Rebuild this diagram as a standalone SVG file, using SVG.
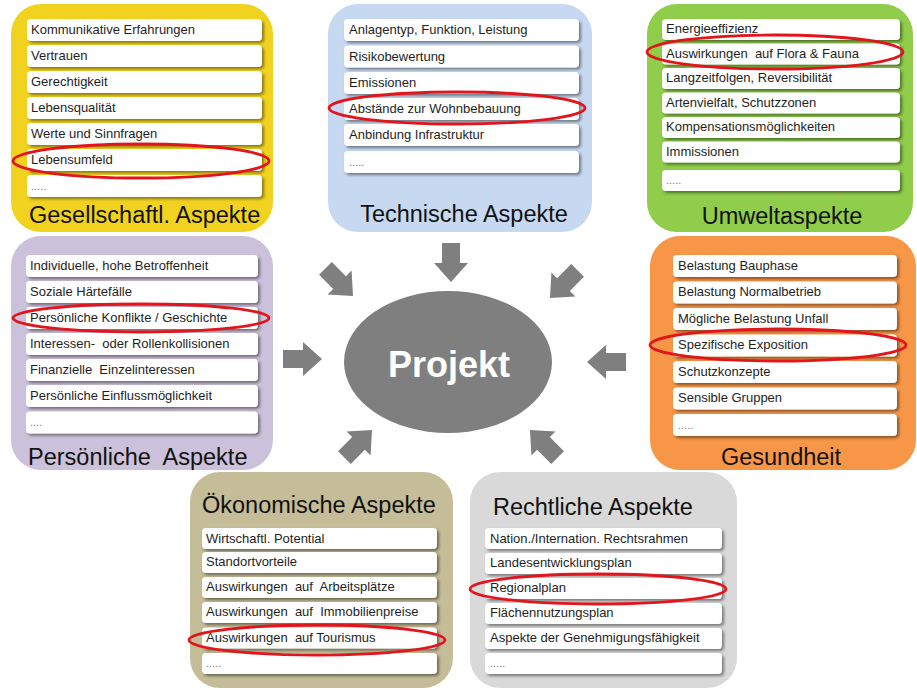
<svg xmlns="http://www.w3.org/2000/svg" width="917" height="690" viewBox="0 0 917 690">
<defs>
<filter id="sh" x="-5%" y="-30%" width="115%" height="170%"><feDropShadow dx="2" dy="2" stdDeviation="1.4" flood-color="#000" flood-opacity="0.45"/></filter>
<path id="arr" d="M0,0 L-19,-17 L-19,-9 L-39,-9 L-39,9 L-19,9 L-19,17 Z"/>
</defs>
<style>
text{font-family:"Liberation Sans",Arial,sans-serif;white-space:pre}
.it{fill:#fff;filter:url(#sh)}
.t{font-size:13px;fill:#1e1e1e}
.d{font-size:11px;fill:#777}
.h{font-size:23.5px;fill:#111}
.ov{fill:none;stroke:#e3141c;stroke-width:2.8}
.ar{fill:#7f7f7f}
</style>
<rect width="917" height="690" fill="#fff"/>

<g id="gesellschaft">
<rect x="11" y="4" width="262" height="228" rx="30" fill="#f1d31f"/>
<rect class="it" x="27" y="19" width="235" height="22" rx="4"/><text class="t" x="31" y="34">Kommunikative Erfahrungen</text>
<rect class="it" x="27" y="45" width="235" height="22" rx="4"/><text class="t" x="31" y="60">Vertrauen</text>
<rect class="it" x="27" y="71" width="235" height="22" rx="4"/><text class="t" x="31" y="86">Gerechtigkeit</text>
<rect class="it" x="27" y="97" width="235" height="22" rx="4"/><text class="t" x="31" y="112">Lebensqualität</text>
<rect class="it" x="27" y="123" width="235" height="22" rx="4"/><text class="t" x="31" y="138">Werte und Sinnfragen</text>
<rect class="it" x="27" y="149" width="235" height="22" rx="4"/><text class="t" x="31" y="164">Lebensumfeld</text>
<rect class="it" x="27" y="175" width="235" height="22" rx="4"/><text class="d" x="31" y="190">.....</text>
<text class="h" x="29" y="223">Gesellschaftl. Aspekte</text>
<ellipse class="ov" cx="141" cy="161" rx="128" ry="17"/>
</g>

<g id="technisch">
<rect x="328" y="4" width="264" height="228" rx="30" fill="#c6d9f1"/>
<rect class="it" x="344" y="19" width="235" height="22" rx="4"/><text class="t" x="349" y="34">Anlagentyp, Funktion, Leistung</text>
<rect class="it" x="344" y="45.5" width="235" height="22" rx="4"/><text class="t" x="349" y="60.5">Risikobewertung</text>
<rect class="it" x="344" y="72" width="235" height="22" rx="4"/><text class="t" x="349" y="87">Emissionen</text>
<rect class="it" x="344" y="98" width="235" height="22" rx="4"/><text class="t" x="349" y="113">Abstände zur Wohnbebauung</text>
<rect class="it" x="344" y="124" width="235" height="22" rx="4"/><text class="t" x="349" y="139">Anbindung Infrastruktur</text>
<rect class="it" x="344" y="151" width="235" height="22" rx="4"/><text class="d" x="349" y="166">.....</text>
<text class="h" x="464" y="222" text-anchor="middle">Technische Aspekte</text>
<ellipse class="ov" cx="457" cy="108" rx="128" ry="16"/>
</g>

<g id="umwelt">
<rect x="647" y="4" width="266" height="228" rx="30" fill="#8fcd4a"/>
<rect class="it" x="662" y="19" width="238" height="21" rx="4"/><text class="t" x="666" y="33">Energieeffizienz</text>
<rect class="it" x="662" y="43.5" width="238" height="21" rx="4"/><text class="t" x="666" y="57.5">Auswirkungen  auf Flora &amp; Fauna</text>
<rect class="it" x="662" y="68" width="238" height="21" rx="4"/><text class="t" x="666" y="82">Langzeitfolgen, Reversibilität</text>
<rect class="it" x="662" y="92.5" width="238" height="21" rx="4"/><text class="t" x="666" y="106.5">Artenvielfalt, Schutzzonen</text>
<rect class="it" x="662" y="117" width="238" height="21" rx="4"/><text class="t" x="666" y="131">Kompensationsmöglichkeiten</text>
<rect class="it" x="662" y="141.5" width="238" height="21" rx="4"/><text class="t" x="666" y="155.5">Immissionen</text>
<rect class="it" x="662" y="170" width="238" height="21" rx="4"/><text class="d" x="666" y="184">.....</text>
<text class="h" x="782" y="224" text-anchor="middle">Umweltaspekte</text>
<ellipse class="ov" cx="775" cy="52" rx="128" ry="17"/>
</g>

<g id="persoenlich">
<rect x="11" y="236" width="262" height="234" rx="30" fill="#ccc1da"/>
<rect class="it" x="26" y="255" width="232" height="22" rx="4"/><text class="t" x="30" y="269.5">Individuelle, hohe Betroffenheit</text>
<rect class="it" x="26" y="281" width="232" height="22" rx="4"/><text class="t" x="30" y="295.5">Soziale Härtefälle</text>
<rect class="it" x="26" y="307" width="232" height="22" rx="4"/><text class="t" x="30" y="321.5">Persönliche Konflikte / Geschichte</text>
<rect class="it" x="26" y="333" width="232" height="22" rx="4"/><text class="t" x="30" y="347.5">Interessen-  oder Rollenkollisionen</text>
<rect class="it" x="26" y="359" width="232" height="22" rx="4"/><text class="t" x="30" y="373.5">Finanzielle  Einzelinteressen</text>
<rect class="it" x="26" y="385" width="232" height="22" rx="4"/><text class="t" x="30" y="399.5">Persönliche Einflussmöglichkeit</text>
<rect class="it" x="26" y="411.5" width="232" height="22" rx="4"/><text class="d" x="30" y="426">....</text>
<text class="h" x="28" y="465">Persönliche  Aspekte</text>
<ellipse class="ov" cx="141" cy="318" rx="128" ry="14"/>
</g>

<g id="gesundheit">
<rect x="650" y="236" width="266" height="234" rx="30" fill="#f79646"/>
<rect class="it" x="673" y="255" width="224" height="22" rx="4"/><text class="t" x="678" y="269.5">Belastung Bauphase</text>
<rect class="it" x="673" y="281.5" width="224" height="22" rx="4"/><text class="t" x="678" y="296">Belastung Normalbetrieb</text>
<rect class="it" x="673" y="308" width="224" height="22" rx="4"/><text class="t" x="678" y="322.5">Mögliche Belastung Unfall</text>
<rect class="it" x="673" y="334.5" width="224" height="22" rx="4"/><text class="t" x="678" y="349">Spezifische Exposition</text>
<rect class="it" x="673" y="361" width="224" height="22" rx="4"/><text class="t" x="678" y="375.5">Schutzkonzepte</text>
<rect class="it" x="673" y="387.5" width="224" height="22" rx="4"/><text class="t" x="678" y="402">Sensible Gruppen</text>
<rect class="it" x="673" y="414" width="224" height="22" rx="4"/><text class="d" x="678" y="428.5">.....</text>
<text class="h" x="781" y="465" text-anchor="middle">Gesundheit</text>
<ellipse class="ov" cx="778" cy="345" rx="128" ry="16"/>
</g>

<g id="oekonomisch">
<rect x="190" y="472" width="263" height="216" rx="30" fill="#c4bd97"/>
<text class="h" x="202" y="513">Ökonomische Aspekte</text>
<rect class="it" x="202" y="528" width="235" height="21" rx="4"/><text class="t" x="206" y="542.5">Wirtschaftl. Potential</text>
<rect class="it" x="202" y="552" width="235" height="21" rx="4"/><text class="t" x="206" y="566">Standortvorteile</text>
<rect class="it" x="202" y="577" width="235" height="21" rx="4"/><text class="t" x="206" y="591">Auswirkungen  auf  Arbeitsplätze</text>
<rect class="it" x="202" y="602" width="235" height="21" rx="4"/><text class="t" x="206" y="616">Auswirkungen  auf  Immobilienpreise</text>
<rect class="it" x="202" y="627.5" width="235" height="21" rx="4"/><text class="t" x="206" y="641.5">Auswirkungen  auf Tourismus</text>
<rect class="it" x="202" y="653" width="235" height="21" rx="4"/><text class="d" x="206" y="667">.....</text>
<ellipse class="ov" cx="317" cy="640" rx="128" ry="15"/>
</g>

<g id="rechtlich">
<rect x="470" y="472" width="267" height="216" rx="30" fill="#d9d9d9"/>
<text class="h" x="493" y="515">Rechtliche Aspekte</text>
<rect class="it" x="485" y="528" width="237" height="21" rx="4"/><text class="t" x="490" y="542.5">Nation./Internation. Rechtsrahmen</text>
<rect class="it" x="485" y="553" width="237" height="21" rx="4"/><text class="t" x="490" y="567">Landesentwicklungsplan</text>
<rect class="it" x="485" y="578" width="237" height="21" rx="4"/><text class="t" x="490" y="592">Regionalplan</text>
<rect class="it" x="485" y="603" width="237" height="21" rx="4"/><text class="t" x="490" y="617">Flächennutzungsplan</text>
<rect class="it" x="485" y="628" width="237" height="21" rx="4"/><text class="t" x="490" y="642">Aspekte der Genehmigungsfähigkeit</text>
<rect class="it" x="485" y="653" width="237" height="21" rx="4"/><text class="d" x="490" y="667">.....</text>
<ellipse class="ov" cx="598" cy="589" rx="128" ry="15"/>
</g>

<g id="projekt">
<ellipse cx="448" cy="362" rx="104" ry="71" fill="#7f7f7f"/>
<text x="449" y="377" text-anchor="middle" font-size="36" font-weight="bold" fill="#fff">Projekt</text>
</g>

<g id="connectors" class="ar">
<use href="#arr" transform="translate(451,282) rotate(90)"/>
<use href="#arr" transform="translate(322,359)"/>
<use href="#arr" transform="translate(587,362) rotate(180)"/>
<use href="#arr" transform="translate(353,296) rotate(45)"/>
<use href="#arr" transform="translate(550,298) rotate(135)"/>
<use href="#arr" transform="translate(372,430) rotate(-45)"/>
<use href="#arr" transform="translate(530,430) rotate(-135)"/>
</g>
</svg>
